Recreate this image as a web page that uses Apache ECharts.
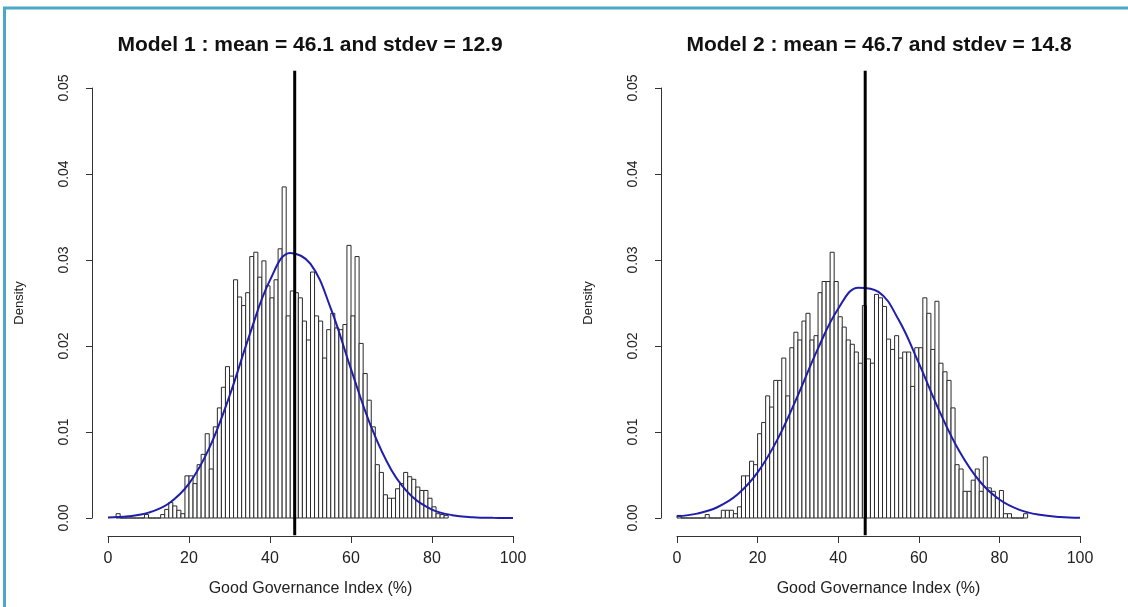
<!DOCTYPE html>
<html>
<head>
<meta charset="utf-8">
<script src="https://cdn.jsdelivr.net/npm/echarts@6/dist/echarts.min.js"></script>
<style>
html,body{margin:0;padding:0;background:#fff;}
#chart{width:1128px;height:607px;}
</style>
</head>
<body>
<div id="chart"></div>
<script>
// ---- data ----
const titles = ['Model 1 : mean = 46.1 and stdev = 12.9', 'Model 2 : mean = 46.7 and stdev = 14.8'];
const means = [46.1, 46.7];
const xTicks = [0, 20, 40, 60, 80, 100];
const yTicks = [0, 0.01, 0.02, 0.03, 0.04, 0.05];
const xName = 'Good Governance Index (%)';
const yName = 'Density';
const binWidth = 1;
// histogram densities, index = left edge of the bin (0,1,2,...)
const density1 = [
  0, 0, 0.0005, 0, 0, 0, 0, 0, 0, 0.0004,
  0, 0, 0, 0.0004, 0.001, 0.0018, 0.0014, 0.0009, 0.0005, 0.0049,
  0.0049, 0.004, 0.0062, 0.0074, 0.0098, 0.0057, 0.0106, 0.0128, 0.0152, 0.0176,
  0.0165, 0.0277, 0.0257, 0.0247, 0.0262, 0.0304, 0.0309, 0.028, 0.0299, 0.027,
  0.0256, 0.0277, 0.0313, 0.0385, 0.0235, 0.0264, 0.0262, 0.0256, 0.0229, 0.0207,
  0.0286, 0.0235, 0.0229, 0.0186, 0.0219, 0.0238, 0.0221, 0.0219, 0.0225, 0.0317,
  0.0235, 0.0304, 0.0203, 0.0168, 0.0137, 0.0106, 0.0062, 0.0053, 0.0027, 0.0023,
  0.0023, 0.0034, 0.004, 0.0053, 0.0048, 0.0045, 0.0036, 0.0032, 0.0032, 0.0023,
  0.0013, 0.0005, 0.0004, 0.0003
];
const density2 = [
  0.0003, 0, 0, 0, 0, 0, 0, 0.0004, 0, 0,
  0, 0.0009, 0.0009, 0.0009, 0.0005, 0.0013, 0.0049, 0.0049, 0.0066, 0.0062,
  0.0098, 0.0111, 0.0142, 0.0129, 0.016, 0.016, 0.0186, 0.0142, 0.0198, 0.0216,
  0.0207, 0.0229, 0.0238, 0.0207, 0.0212, 0.0262, 0.0275, 0.0275, 0.0309, 0.0275,
  0.0234, 0.0222, 0.0207, 0.0202, 0.0193, 0.018, 0.0247, 0.0185, 0.018, 0.026,
  0.0256, 0.0246, 0.0208, 0.0196, 0.0212, 0.0186, 0.0193, 0.0193, 0.0153, 0.0198,
  0.0198, 0.0256, 0.0238, 0.0196, 0.0252, 0.018, 0.017, 0.016, 0.0128, 0.0062,
  0.0057, 0.0031, 0.0031, 0.0044, 0.0057, 0.0031, 0.0071, 0.0035, 0.0031, 0.0023,
  0.0032, 0.0005, 0.0005, 0, 0, 0, 0.0005
];
// fitted normal curves, read at these x positions
const curveX = [0, 5, 10, 15, 20, 25, 30, 35, 40, 45, 50, 55, 60, 65, 70, 75, 80, 85, 90, 95, 100];
const curve1 = [0.00005, 0.00019, 0.00062, 0.00169, 0.00399, 0.00812, 0.01419, 0.02136, 0.02766, 0.03082, 0.02955,
  0.02438, 0.01731, 0.01058, 0.00556, 0.00252, 0.00098, 0.00033, 0.00009, 0.00002, 0.00001];
const curve2 = [0.00019, 0.00051, 0.00125, 0.00272, 0.0053, 0.0092, 0.01426, 0.01972, 0.02433, 0.02678, 0.0263,
  0.02304, 0.018, 0.01255, 0.00781, 0.00433, 0.00215, 0.00095, 0.00037, 0.00013, 0.00004];

// ---- chart ----
const FONT = '"Liberation Sans", Arial, Helvetica, sans-serif';
const chart = echarts.init(document.getElementById('chart'), null, {renderer: 'canvas'});
const xMin = xTicks[0], xMax = xTicks[xTicks.length - 1];
const yMin = yTicks[0], yMax = yTicks[yTicks.length - 1];
const yPad = (yMax - yMin) * 0.04;

function histData(d) {
  let first = d.findIndex(v => v > 0);
  let last = d.length - 1;
  while (last > 0 && !(d[last] > 0)) last--;
  const out = [];
  for (let i = first; i <= last; i++) out.push([i * binWidth, d[i]]);
  return out;
}

const grids = [
  {left: 108, top: 88, width: 405, height: 430},
  {left: 677, top: 88, width: 403, height: 430}
];
const titleCenters = [305, 874];

const xAxes = [], yAxes = [], series = [], titleOpts = [];
[0, 1].forEach(k => {
  titleOpts.push({
    text: titles[k], left: titleCenters[k], top: 30, textAlign: 'center',
    textStyle: {fontFamily: FONT, fontSize: 21, fontWeight: 'bold', color: '#111'}
  });
  xAxes.push({
    type: 'value', gridIndex: k, min: xMin, max: xMax, interval: 20, offset: 18,
    axisLine: {show: true, onZero: false, lineStyle: {color: '#333', width: 1}},
    axisTick: {show: true, length: 7, inside: false, lineStyle: {color: '#333'}},
    axisLabel: {show: true, margin: 15, fontFamily: FONT, fontSize: 16, color: '#222'},
    splitLine: {show: false},
    name: xName, nameLocation: 'middle', nameGap: 45,
    nameTextStyle: {fontFamily: FONT, fontSize: 16, color: '#222'}
  });
  yAxes.push({
    type: 'value', gridIndex: k, min: yMin, max: yMax, interval: 0.01, offset: 16,
    axisLine: {show: true, onZero: false, lineStyle: {color: '#333', width: 1}},
    axisTick: {show: true, length: 6, lineStyle: {color: '#333'}},
    axisLabel: {show: true, rotate: 90, margin: 21, fontFamily: FONT, fontSize: 14, color: '#222',
      formatter: v => v.toFixed(2)},
    splitLine: {show: false},
    name: yName, nameLocation: 'middle', nameGap: 66, nameRotate: 90,
    nameTextStyle: {fontFamily: FONT, fontSize: 13, color: '#222'}
  });
  const dens = k === 0 ? density1 : density2;
  series.push({
    type: 'custom', xAxisIndex: k, yAxisIndex: k, data: histData(dens), z: 1,
    renderItem: function (params, api) {
      const x0 = api.value(0), h = api.value(1);
      const p0 = api.coord([x0, 0]);
      const p1 = api.coord([x0 + binWidth, h]);
      return {
        type: 'rect',
        shape: {x: p0[0], y: p1[1], width: p1[0] - p0[0], height: p0[1] - p1[1]},
        style: {fill: '#fff', stroke: '#2a2a2a', lineWidth: 1}
      };
    }
  });
  const cy = k === 0 ? curve1 : curve2;
  series.push({
    type: 'line', xAxisIndex: k, yAxisIndex: k, z: 3, smooth: 0.4, symbol: 'none', silent: true,
    data: curveX.map((x, i) => [x, cy[i]]),
    lineStyle: {color: '#1e1eaa', width: 2}
  });
  series.push({
    type: 'line', xAxisIndex: k, yAxisIndex: k, z: 4, symbol: 'none', clip: false, silent: true,
    data: [[means[k], yMin - yPad], [means[k], yMax + yPad]],
    lineStyle: {color: '#000', width: 3}
  });
});

chart.setOption({
  backgroundColor: '#fff',
  animation: false,
  title: titleOpts,
  grid: grids,
  xAxis: xAxes,
  yAxis: yAxes,
  series: series,
  graphic: [{
    type: 'rect', silent: true, z: 100,
    shape: {x: 4.5, y: 8, width: 1300, height: 800},
    style: {fill: 'none', stroke: '#4ba8c6', lineWidth: 3}
  }]
});
</script>
</body>
</html>
